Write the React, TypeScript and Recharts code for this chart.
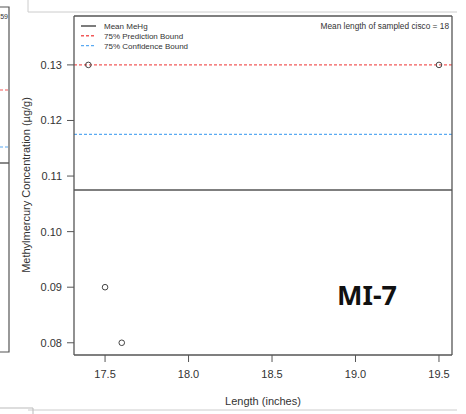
import React from "react";
import {
  ScatterChart,
  Scatter,
  XAxis,
  YAxis,
  ReferenceLine,
} from "recharts";

// sampled cisco
const lengths = [17.4, 17.5, 17.6, 19.5];
const mehg = [0.13, 0.09, 0.08, 0.13];

const meanMehg = 0.1075;
const predictionBound = 0.13;
const confidenceBound = 0.1175;

const xTicks = [17.5, 18.0, 18.5, 19.0, 19.5];
const yTicks = [0.08, 0.09, 0.1, 0.11, 0.12, 0.13];

const legendNames = ["Mean MeHg", "75% Prediction Bound", "75% Confidence Bound"];
const legendColors = ["#444", "#f25a5a", "#5aaaf2"];
const legendDashes = ["", "3 2", "3 2"];

const FONT = "'Liberation Sans', Arial, sans-serif";
const INK = "#333";

const points = lengths.map((l, i) => ({ length: l, mehg: mehg[i] }));

export default function App() {
  return (
    <div style={{ position: "absolute", top: 0, left: 0, width: 466, height: 414, background: "#fff" }}>
      <ScatterChart
        width={466}
        height={414}
        margin={{ top: 15, right: 13, bottom: 29, left: 24 }}
      >
        <XAxis
          dataKey="length"
          type="number"
          domain={[17.314, 19.578]}
          ticks={xTicks}
          tickFormatter={(v: number) => v.toFixed(1)}
          height={30}
          tickSize={7}
          tickMargin={8}
          stroke="#555"
          tick={{ fontSize: 11, fill: INK, fontFamily: FONT }}
          axisLine={{ stroke: "#555", strokeWidth: 1.3 }}
        />
        <XAxis
          xAxisId="top"
          orientation="top"
          type="number"
          domain={[17.314, 19.578]}
          height={1}
          tick={false}
          tickLine={false}
          axisLine={{ stroke: "#555", strokeWidth: 1.3 }}
        />
        <YAxis
          dataKey="mehg"
          type="number"
          domain={[0.0778, 0.1388]}
          ticks={yTicks}
          tickFormatter={(v: number) => v.toFixed(2)}
          width={50}
          tickSize={7}
          tickMargin={5}
          stroke="#555"
          tick={{ fontSize: 11, fill: INK, fontFamily: FONT }}
          axisLine={{ stroke: "#555", strokeWidth: 1.3 }}
        />
        <YAxis
          yAxisId="right"
          orientation="right"
          type="number"
          domain={[0.0778, 0.1388]}
          width={1}
          tick={false}
          tickLine={false}
          axisLine={{ stroke: "#555", strokeWidth: 1.3 }}
        />
        <ReferenceLine y={meanMehg} stroke="#555" strokeWidth={1.6} />
        <ReferenceLine
          y={predictionBound}
          stroke={legendColors[1]}
          strokeWidth={1.3}
          strokeDasharray="3 2"
        />
        <ReferenceLine
          y={confidenceBound}
          stroke={legendColors[2]}
          strokeWidth={1.3}
          strokeDasharray="3 2"
        />
        <Scatter
          data={points}
          isAnimationActive={false}
          shape={(p: any) => (
            <circle cx={p.cx} cy={p.cy} r={2.8} fill="none" stroke="#444" strokeWidth={1} />
          )}
        />
      </ScatterChart>

      <svg
        width={466}
        height={414}
        style={{ position: "absolute", top: 0, left: 0, pointerEvents: "none" }}
      >
        {/* neighbouring panel edges from the source page */}
        <polyline points="0,7 9,7 9,352 0,352" fill="none" stroke="#555" strokeWidth={1.2} />
        <line x1={0} x2={9} y1={90} y2={90} stroke="#f25a5a" strokeWidth={1.2} strokeDasharray="3 2" />
        <line x1={0} x2={9} y1={147} y2={147} stroke="#5aaaf2" strokeWidth={1.2} strokeDasharray="3 2" />
        <line x1={0} x2={9} y1={163} y2={163} stroke="#555" strokeWidth={1.4} />
        <text x={8} y={19} fontSize={7} fill={INK} fontFamily={FONT} textAnchor="end">
          59
        </text>
        <polyline points="28,0 28,12 457,12" fill="none" stroke="#ccc" strokeWidth={1} />
        <line x1={28} x2={457} y1={410} y2={410} stroke="#ccc" strokeWidth={1} />
        <polyline points="0,408 33,408 33,414" fill="none" stroke="#bbb" strokeWidth={1} />

        {legendNames.map((name, i) => (
          <g key={name} transform={`translate(74, ${26 + i * 9.8})`}>
            <line
              x1={7}
              x2={22}
              y1={0}
              y2={0}
              stroke={legendColors[i]}
              strokeWidth={1.4}
              strokeDasharray={legendDashes[i]}
            />
            <text x={30} y={3} fontSize={8} fill={INK} fontFamily={FONT}>
              {name}
            </text>
          </g>
        ))}

        <text x={449} y={29} fontSize={8.3} fill={INK} fontFamily={FONT} textAnchor="end">
          Mean length of sampled cisco = 18
        </text>
        <text
          x={263}
          y={405}
          fontSize={11}
          fill={INK}
          fontFamily={FONT}
          textAnchor="middle"
        >
          Length (inches)
        </text>
        <text
          transform="translate(30, 185) rotate(-90)"
          fontSize={11}
          fill={INK}
          fontFamily={FONT}
          textAnchor="middle"
        >
          Methylmercury Concentration (µg/g)
        </text>
        <text
          x={367}
          y={305}
          fontSize={27}
          fontWeight="bold"
          fill="#111"
          fontFamily="'Noto Sans', sans-serif"
          textAnchor="middle"
        >
          MI-7
        </text>
      </svg>
    </div>
  );
}
